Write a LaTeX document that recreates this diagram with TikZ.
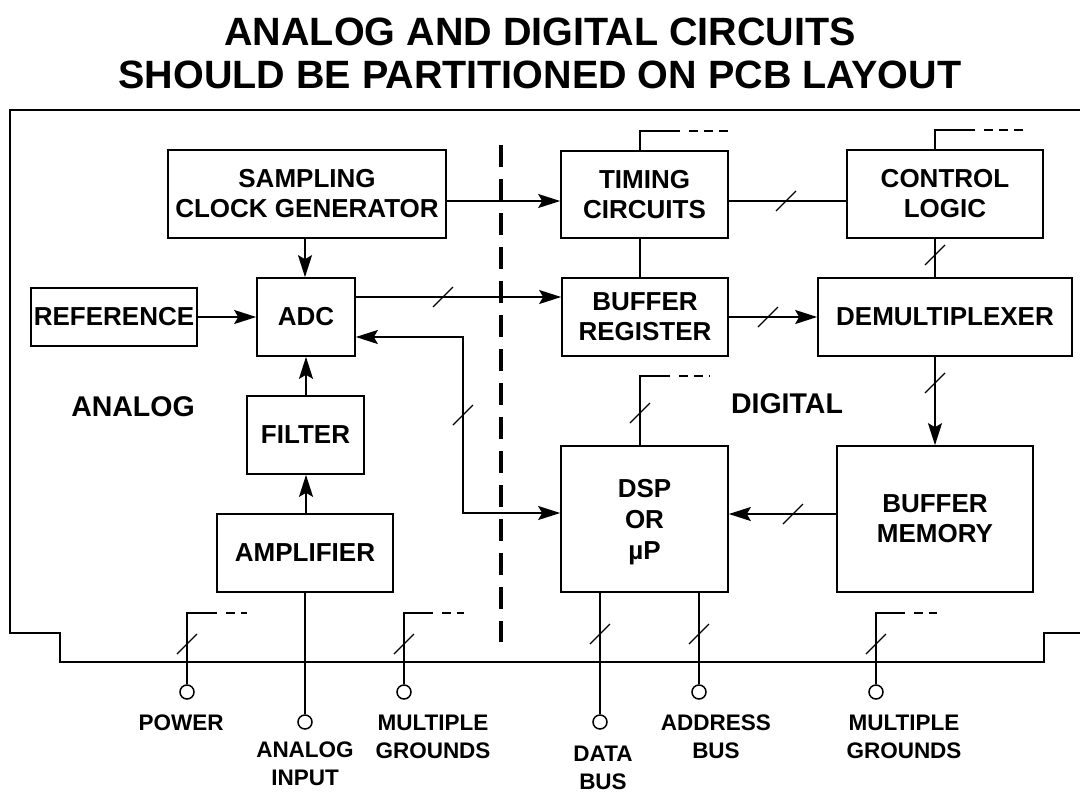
\documentclass[tikz,border=0pt]{standalone}
\usepackage{fontspec}
\setmainfont{Liberation Sans}
\usetikzlibrary{arrows.meta,calc}
\begin{document}
\begin{tikzpicture}[x=1pt,y=-1pt,
  box/.style={draw, line width=1.7pt, inner sep=0pt, align=center, font=\fontsize{26}{30}\selectfont\bfseries},
  wire/.style={line width=1.7pt},
  arr/.style={wire, -{Stealth[length=22pt,width=14pt,inset=4pt]}},
  darr/.style={wire, {Stealth[length=22pt,width=14pt,inset=4pt]}-{Stealth[length=22pt,width=14pt,inset=4pt]}},
  busmark/.style={line width=1.2pt},
  stubdash/.style={line width=1.7pt, dash pattern=on 0pt off 9pt on 9pt off 6pt on 9pt off 6pt on 9pt off 40pt},
  pincirc/.style={circle, draw, line width=1.5pt, fill=white, minimum size=14pt, inner sep=0pt},
  biglabel/.style={font=\fontsize{28.5}{34}\selectfont\bfseries},
  pinlabel/.style={align=center, font=\fontsize{22.5}{28}\selectfont\bfseries},
  titletext/.style={font=\fontsize{39.5}{43}\selectfont\bfseries}
]
\useasboundingbox (0,0) rectangle (1080,796);
\fill[white] (0,0) rectangle (1080,796);

% title
\node[titletext] (t1) at (540,32) {ANALOG AND DIGITAL CIRCUITS};
\node[titletext] (t2) at (540,75) {SHOULD BE PARTITIONED ON PCB LAYOUT};

% board outline
\draw[wire] (1080,110) -- (10,110) -- (10,633) -- (60,633) -- (60,662) -- (1044,662) -- (1044,633) -- (1080,633);

% partition line
\draw[line width=4pt, dash pattern=on 22pt off 12pt] (501,145) -- (501,642);

% blocks
\node[box, minimum width=278pt, minimum height=88pt] (samp) at (307,194) {SAMPLING\\CLOCK GENERATOR};
\node[box, minimum width=166pt, minimum height=58pt] (ref) at (114,317) {REFERENCE};
\node[box, minimum width=98pt, minimum height=78pt] (adc) at (306,317) {ADC};
\node[box, minimum width=117pt, minimum height=78pt] (filter) at (305.5,435) {FILTER};
\node[box, minimum width=176pt, minimum height=78pt] (amp) at (305,553) {AMPLIFIER};
\node[box, minimum width=167pt, minimum height=87pt] (timing) at (644.5,194.5) {TIMING\\CIRCUITS};
\node[box, minimum width=196pt, minimum height=88pt] (control) at (945,194) {CONTROL\\LOGIC};
\node[box, minimum width=166pt, minimum height=78pt] (bufreg) at (645,317) {BUFFER\\REGISTER};
\node[box, minimum width=254pt, minimum height=78pt] (demux) at (945,317) {DEMULTIPLEXER};
\node[box, minimum width=167pt, minimum height=146pt, font=\fontsize{26}{31}\selectfont\bfseries] (dsp) at (644.5,519) {DSP\\OR\\\smash{µ}P};
\node[box, minimum width=196pt, minimum height=146pt] (mem) at (935,519) {BUFFER\\MEMORY};

\node[biglabel] (analog) at (133,407) {ANALOG};
\node[biglabel] (digital) at (787,404) {DIGITAL};

% connections
\draw[arr] (samp.east |- 0,201) -- (timing.west |- 0,201);
\draw[arr] (samp.south -| 305,0) -- (adc.north -| 305,0);
\draw[arr] (ref.east) -- (adc.west);
\draw[arr] (filter.north -| 306,0) -- (adc.south -| 306,0);
\draw[arr] (amp.north -| 306,0) -- (filter.south -| 306,0);
\draw[arr] (adc.east |- 0,297) -- (bufreg.west |- 0,297);
\draw[busmark] (443,297) ++(-10,10) -- ++(20,-20);
\coordinate (j1) at (463,337);
\coordinate (j2) at (463,513);
\draw[darr] (adc.east |- j1) -- (j1) -- (j2) -- (dsp.west |- j2);
\draw[busmark] (463,415) ++(-10,10) -- ++(20,-20);
\draw[wire] (timing.east |- 0,201) -- (control.west |- 0,201);
\draw[busmark] (786,201) ++(-10,10) -- ++(20,-20);
\draw[wire] (timing.south -| 640,0) -- (bufreg.north -| 640,0);
\draw[wire] (control.south -| 935,0) -- (demux.north -| 935,0);
\draw[busmark] (935,255) ++(-10,10) -- ++(20,-20);
\draw[arr] (bufreg.east) -- (demux.west);
\draw[busmark] (768,317) ++(-10,10) -- ++(20,-20);
\draw[arr] (demux.south -| 935,0) -- (mem.north);
\draw[busmark] (935,383) ++(-10,10) -- ++(20,-20);
\draw[arr] (mem.west |- 0,514) -- (dsp.east |- 0,514);
\draw[busmark] (793,514) ++(-10,10) -- ++(20,-20);

% stubs on digital blocks
\coordinate (ts1) at (640,131); \coordinate (ts2) at (680,131); \coordinate (ts3) at (729,131);
\draw[wire] (timing.north -| ts1) -- (ts1) -- (ts2);
\draw[stubdash] (ts2) -- (ts3);
\coordinate (cs1) at (935,130); \coordinate (cs2) at (975,130); \coordinate (cs3) at (1023,130);
\draw[wire] (control.north -| cs1) -- (cs1) -- (cs2);
\draw[stubdash] (cs2) -- (cs3);
\coordinate (ds1) at (640,376); \coordinate (ds2) at (670,376); \coordinate (ds3) at (710,376);
\draw[wire] (dsp.north -| ds1) -- (ds1) -- (ds2);
\draw[stubdash] (ds2) -- (ds3);
\draw[busmark] (640,413) ++(-10,10) -- ++(20,-20);

% connector pins
\node[pincirc] (pwr) at (187,692) {};
\node[pincirc] (ain) at (305,722) {};
\node[pincirc] (gl) at (404,692) {};
\node[pincirc] (db) at (600,722) {};
\node[pincirc] (ab) at (699,692) {};
\node[pincirc] (gr) at (876,692) {};

\coordinate (p1) at (187,613); \coordinate (p2) at (217,613); \coordinate (p3) at (247,613);
\draw[wire] (pwr.north) -- (p1) -- (p2);
\draw[stubdash] (p2) -- (p3);
\draw[busmark] (187,644) ++(-10,10) -- ++(20,-20);

\draw[wire] (amp.south) -- (ain.north);

\coordinate (g1) at (404,613); \coordinate (g2) at (433,613); \coordinate (g3) at (464,613);
\draw[wire] (gl.north) -- (g1) -- (g2);
\draw[stubdash] (g2) -- (g3);
\draw[busmark] (404,644) ++(-10,10) -- ++(20,-20);

\draw[wire] (dsp.south -| db) -- (db.north);
\draw[busmark] (600,634) ++(-10,10) -- ++(20,-20);
\draw[wire] (dsp.south -| ab) -- (ab.north);
\draw[busmark] (699,634) ++(-10,10) -- ++(20,-20);

\coordinate (h1) at (876,613); \coordinate (h2) at (905,613); \coordinate (h3) at (937,613);
\draw[wire] (gr.north) -- (h1) -- (h2);
\draw[stubdash] (h2) -- (h3);
\draw[busmark] (876,644) ++(-10,10) -- ++(20,-20);

% pin labels
\node[pinlabel] (lpwr) at (181,723) {POWER};
\node[pinlabel] (lain) at (305,764) {ANALOG\\INPUT};
\node[pinlabel] (lgl) at (433,737) {MULTIPLE\\GROUNDS};
\node[pinlabel] (ldb) at (603,768) {DATA\\BUS};
\node[pinlabel] (lab) at (716,737) {ADDRESS\\BUS};
\node[pinlabel] (lgr) at (904,737) {MULTIPLE\\GROUNDS};
\end{tikzpicture}
\end{document}
